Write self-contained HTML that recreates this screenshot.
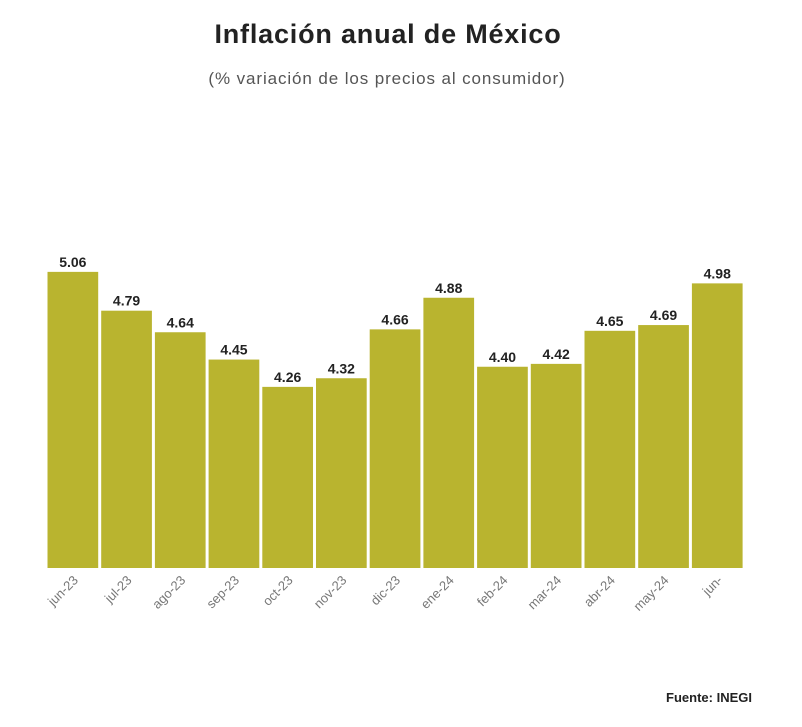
<!DOCTYPE html>
<html><head><meta charset="utf-8"><style>
body{margin:0;background:#fff;font-family:"Liberation Sans",sans-serif}
</style></head><body>
<svg id="c" width="802" height="722">
<text x="388" y="43" text-anchor="middle" font-size="27" font-weight="bold" letter-spacing="0.8" fill="#222">Inflación anual de México</text>
<text x="387" y="84" text-anchor="middle" font-size="17" letter-spacing="0.9" fill="#555">(% variación de los precios al consumidor)</text>
<text x="752" y="702" text-anchor="end" font-size="13" font-weight="bold" fill="#222">Fuente: INEGI</text>
<g id="bars"></g>
</svg>
<script>
const categories=["jun-23","jul-23","ago-23","sep-23","oct-23","nov-23","dic-23","ene-24","feb-24","mar-24","abr-24","may-24","jun-"];
const values=[5.06,4.79,4.64,4.45,4.26,4.32,4.66,4.88,4.40,4.42,4.65,4.69,4.98];
const valueLabels=["5.06","4.79","4.64","4.45","4.26","4.32","4.66","4.88","4.40","4.42","4.65","4.69","4.98"];
const x0=47.5,slot=53.7,bw=50.7,base=568,ymin=3.0,k=143.75;
const xs=i=>x0+i*slot;
const ys=v=>base-(v-ymin)*k;
const ns="http://www.w3.org/2000/svg",g=document.getElementById('bars');
categories.forEach((c,i)=>{
 const r=document.createElementNS(ns,'rect');
 
 
 r.setAttribute('x',xs(i));r.setAttribute('y',ys(values[i]));
 r.setAttribute('width',bw);r.setAttribute('height',base-ys(values[i]));
 r.setAttribute('fill','#b9b42f');g.appendChild(r);
 const t=document.createElementNS(ns,'text');
 
 
 t.setAttribute('x',xs(i)+bw/2);t.setAttribute('y',ys(values[i])-5);
 t.setAttribute('text-anchor','middle');t.setAttribute('font-size','14');
 t.setAttribute('font-weight','bold');t.setAttribute('fill','#222');
 t.textContent=valueLabels[i];g.appendChild(t);
 const l=document.createElementNS(ns,'text');
 
 
 const cx=xs(i)+bw/2+6,cy=base+13;
 l.setAttribute('x',cx);l.setAttribute('y',cy);
 l.setAttribute('text-anchor','end');l.setAttribute('font-size','13');
 l.setAttribute('fill','#777');
 l.setAttribute('transform','rotate(-45 '+cx+' '+cy+')');
 l.textContent=c;g.appendChild(l);
});
</script>
</body></html>
